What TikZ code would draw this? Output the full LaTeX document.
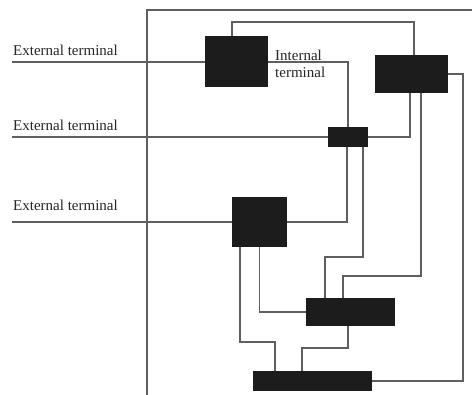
\documentclass[tikz,border=0pt]{standalone}
\usepackage{fontspec}
\setmainfont{Liberation Serif}
\usepackage{tikz}
\definecolor{blockfill}{RGB}{28,28,28}
\definecolor{wire}{RGB}{95,95,95}

\begin{document}
\begin{tikzpicture}[x=1pt,y=-1pt,
  block/.style={fill=blockfill, inner sep=0pt},
  net/.style={draw=wire, line width=1.1pt},
  lbl/.style={font=\fontsize{15}{17}\selectfont, text=black!85, inner sep=0pt}]
  \useasboundingbox (0,0) rectangle (472,395);

  % Blocks
  \node[block, minimum width=63pt, minimum height=51pt] (A) at (236.5,62) {};
  \node[block, minimum width=73pt, minimum height=38pt] (B) at (411.5,74) {};
  \node[block, minimum width=40pt, minimum height=20pt] (C) at (348,137) {};
  \node[block, minimum width=55pt, minimum height=50pt] (D) at (259.5,222) {};
  \node[block, minimum width=89pt, minimum height=28pt] (E) at (350.5,312) {};
  \node[block, minimum width=119pt, minimum height=20pt] (F) at (312.5,381) {};

  % Frame
  \draw[net] (147,395) -- (147,10) -- (472,10);

  % External terminals
  \coordinate (e1) at (12,62);
  \coordinate (e2) at (12,137);
  \coordinate (e3) at (12,222);
  \node[lbl, anchor=base west] (t1) at (13,56) {External terminal};
  \node[lbl, anchor=base west] (t2) at (13,131) {External terminal};
  \node[lbl, anchor=base west] (t3) at (13,211) {External terminal};
  \draw[net] (e1) -- (A.west);
  \draw[net] (e2) -- (C.west);
  \draw[net] (e3) -- (D.west);

  % Internal wiring
  \coordinate (topbus) at (300,22);
  \coordinate (rbus) at (463,200);
  \coordinate (j8) at (380,276);
  \coordinate (j10) at (340,257);
  \coordinate (j12) at (260,342);
  \coordinate (j13) at (320,348);
  \draw[net] ([xshift=-4.5pt]A.north) |- (topbus) -| ([xshift=2.5pt]B.north);
  \draw[net] (A.east) -| (C.north);
  \node[lbl, anchor=north west, align=left] (it) at (275,50) {Internal\\terminal};
  \draw[net] ([xshift=-1.5pt]B.south) |- (C.east);
  \draw[net] (B.east) -| (rbus) |- (F.east);
  \draw[net] ([xshift=9.5pt]B.south) |- (j8) -| ([xshift=-7.5pt]E.north);
  \draw[net] ([xshift=-1pt]C.south) |- (D.east);
  \draw[net] ([xshift=15pt]C.south) |- (j10) -| ([xshift=-25.5pt]E.north);
  \draw[net] (D.south) |- (E.west);
  \draw[net] ([xshift=-19.5pt]D.south) |- (j12) -| ([xshift=-37.5pt]F.north);
  \draw[net] ([xshift=-2.5pt]E.south) |- (j13) -| ([xshift=-10.5pt]F.north);
\end{tikzpicture}
\end{document}
